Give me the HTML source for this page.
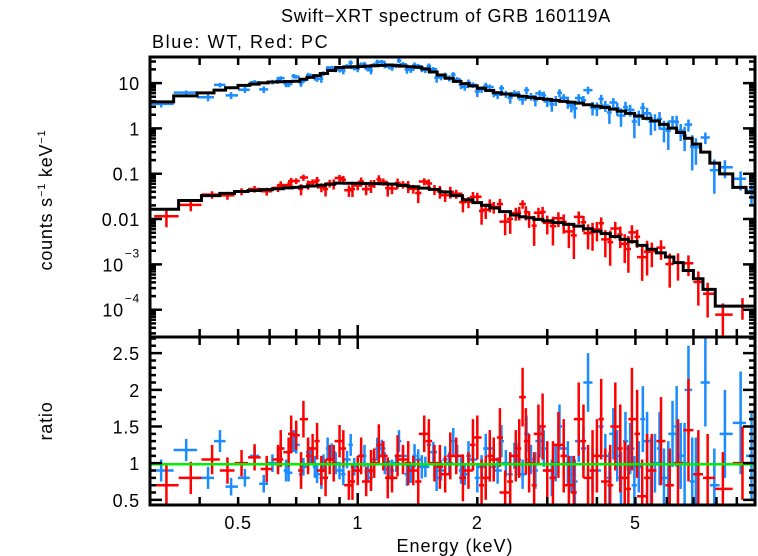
<!DOCTYPE html>
<html><head><meta charset="utf-8"><style>
body{margin:0;background:#fff;}
svg{display:block;font-family:"Liberation Sans",sans-serif;}
</style></head><body>
<svg id="chart" width="758" height="556" viewBox="0 0 758 556">
<text x="446" y="22" text-anchor="middle" font-size="18" letter-spacing="0.8">Swift−XRT spectrum of GRB 160119A</text>
<text x="152" y="48" font-size="18" letter-spacing="1.6">Blue: WT, Red: PC</text>
<text transform="translate(52,200) rotate(-90)" text-anchor="middle" font-size="18" letter-spacing="0.8">counts s<tspan font-size="11" dy="-7">−1</tspan><tspan dy="7"> keV</tspan><tspan font-size="11" dy="-7">−1</tspan></text>
<text transform="translate(52,421) rotate(-90)" text-anchor="middle" font-size="18" letter-spacing="0.8">ratio</text>
<text x="455" y="552" text-anchor="middle" font-size="18" letter-spacing="1">Energy (keV)</text>
<g id="g"></g>
</svg>
<script>
const blueE=[0.32,0.37,0.42,0.45,0.48,0.52,0.55,0.58,0.61,0.64,0.67,0.70,0.73,0.76,0.79,0.82,0.86,0.9,0.94,0.98,1.02,1.06,1.1,1.15,1.2,1.25,1.3,1.36,1.42,1.48,1.55,1.62,1.7,1.78,1.86,1.95,2.05,2.15,2.25,2.36,2.48,2.6,2.73,2.87,3.0,3.15,3.3,3.45,3.6,3.8,4.0,4.2,4.4,4.6,4.85,5.1,5.35,5.6,5.9,6.2,6.5,6.8,7.1,7.5,7.9,8.4,9.2,9.8];
const blueRatio=[0.9,1.18,0.8,1.3,0.68,0.8,1.1,0.72,1.0,1.2,0.87,1.25,0.95,1.1,0.85,1.0,1.15,0.9,1.05,0.95,1.1,0.88,1.05,1.2,0.92,1.0,1.1,0.85,1.05,0.95,1.15,0.9,1.0,1.1,0.85,1.05,0.95,1.2,0.9,1.0,1.1,0.85,1.05,1.3,0.9,1.0,1.2,0.85,1.3,2.1,0.9,1.1,1.4,0.8,1.2,0.95,1.3,1.0,0.8,1.4,1.1,2.0,0.85,2.1,0.7,1.4,1.55,1.1];
const blueErr=[0.15,0.15,0.15,0.15,0.12,0.12,0.12,0.12,0.12,0.12,0.12,0.12,0.12,0.12,0.12,0.12,0.12,0.12,0.12,0.12,0.12,0.12,0.12,0.12,0.12,0.12,0.12,0.12,0.14,0.14,0.14,0.14,0.15,0.15,0.15,0.15,0.16,0.16,0.18,0.18,0.18,0.2,0.2,0.22,0.22,0.25,0.25,0.25,0.28,0.4,0.3,0.3,0.35,0.35,0.35,0.35,0.4,0.4,0.4,0.45,0.45,0.6,0.5,0.6,0.5,0.6,0.7,0.6];
const blueE2=[0.63,0.66,0.69,0.72,0.75,0.78,0.81,0.84,0.88,0.92,0.96,1.0,1.04,1.08,1.12,1.17,1.22,1.27,1.33,1.39,1.45,1.51,1.58,1.66,1.74,1.82,1.9,2.0,2.1,2.2,2.3,2.42,2.54,2.66,2.8,2.94,3.08,3.22,3.38,3.52,3.7,3.9,4.1,4.3,4.5,4.72,4.97,5.22,5.47,5.75,6.05,6.35,6.65,6.95];
const blueRatio2=[1.05,0.9,1.3,0.85,1.15,0.95,0.8,1.2,1.0,0.85,1.25,0.9,1.1,0.8,1.2,1.0,0.9,1.3,0.85,1.1,0.95,1.25,0.8,1.05,1.3,0.9,1.1,0.8,1.2,0.95,1.3,0.85,1.05,1.4,0.9,1.2,0.8,1.5,1.0,0.75,1.2,0.9,1.5,0.8,1.1,1.3,0.7,1.6,0.9,1.2,0.8,1.5,1.0,0.75];
const blueErr2=[0.15,0.15,0.15,0.15,0.15,0.15,0.15,0.15,0.15,0.15,0.15,0.15,0.15,0.15,0.15,0.15,0.15,0.15,0.16,0.16,0.16,0.16,0.18,0.18,0.18,0.18,0.2,0.2,0.2,0.2,0.22,0.22,0.22,0.25,0.25,0.25,0.25,0.3,0.3,0.3,0.3,0.3,0.35,0.35,0.35,0.4,0.4,0.45,0.45,0.5,0.5,0.55,0.55,0.6];
const redE=[0.33,0.38,0.43,0.47,0.51,0.55,0.59,0.63,0.67,0.7,0.73,0.77,0.81,0.85,0.9,0.95,1.0,1.05,1.1,1.16,1.22,1.3,1.38,1.47,1.56,1.66,1.77,1.9,2.0,2.1,2.2,2.35,2.5,2.6,2.7,2.85,3.0,3.2,3.4,3.6,3.8,4.0,4.2,4.45,4.7,4.9,5.2,5.5,5.8,6.1,6.4,6.8,7.2,7.6,8.3,9.3];
const redRatio=[0.7,0.8,1.05,0.9,1.0,1.08,0.92,1.05,1.15,1.38,1.6,1.2,0.9,1.05,1.3,0.7,0.9,0.75,1.0,1.1,0.8,1.05,0.9,1.4,1.0,0.85,1.1,0.9,1.35,0.8,1.05,0.6,1.1,1.9,1.0,1.4,0.9,1.25,0.7,1.6,0.8,1.1,0.75,1.5,0.8,1.6,0.55,0.9,1.3,0.7,1.0,1.45,0.85,0.8,0.65,1.0];
const redErr=[0.3,0.22,0.2,0.18,0.18,0.18,0.18,0.2,0.2,0.2,0.25,0.2,0.2,0.2,0.22,0.2,0.2,0.2,0.2,0.2,0.2,0.2,0.2,0.25,0.25,0.25,0.25,0.25,0.3,0.3,0.3,0.3,0.35,0.4,0.4,0.4,0.4,0.45,0.4,0.5,0.45,0.5,0.45,0.6,0.5,0.7,0.5,0.5,0.6,0.5,0.6,0.7,0.6,0.6,0.5,0.5];
const redE2=[0.64,0.68,0.72,0.75,0.79,0.83,0.87,0.92,0.97,1.02,1.08,1.13,1.19,1.26,1.34,1.42,1.51,1.61,1.71,1.84,1.95,2.05,2.15,2.28,2.42,2.55,2.65,2.78,2.92,3.1,3.3,3.5,3.7,3.9,4.1,4.32,4.58,4.8,5.05,5.35];
const redRatio2=[1.2,1.4,0.9,1.1,1.3,0.8,1.0,1.2,0.75,1.1,0.9,1.25,0.8,1.1,1.0,0.75,1.3,0.95,1.1,0.8,1.25,0.7,1.1,1.35,0.75,1.2,1.3,0.7,1.5,0.8,1.1,0.6,1.3,0.9,1.6,0.7,1.2,0.65,1.4,0.8];
const redErr2=[0.25,0.25,0.25,0.25,0.25,0.25,0.25,0.25,0.25,0.25,0.28,0.28,0.28,0.28,0.3,0.3,0.3,0.3,0.32,0.32,0.35,0.35,0.35,0.4,0.4,0.4,0.45,0.45,0.45,0.5,0.5,0.5,0.5,0.55,0.55,0.55,0.6,0.6,0.6,0.6];
const blueModelE=[0.3,0.35,0.4,0.45,0.5,0.6,0.7,0.8,0.9,1.2,1.45,1.8,2.27,2.85,3.6,4.3,5.0,5.7,6.4,7.0,7.5,8.0,8.5,9.0,10];
const blueModelV=[3.2,5,5.5,7,8.5,10.5,11,15,22,25,22,10.5,6,4.6,3.6,2.8,2.0,1.4,0.9,0.5,0.3,0.15,0.09,0.055,0.035];
const redModelE=[0.3,0.35,0.4,0.5,0.6,0.8,0.9,1.2,1.6,2.0,2.55,3.6,4.5,5.0,6.0,6.5,7.0,7.5,8.0,10];
const redModelV=[0.012,0.02,0.03,0.04,0.045,0.055,0.062,0.06,0.044,0.023,0.0116,0.007,0.004,0.003,0.0016,0.001,6e-4,3.5e-4,1.2e-4,1.2e-4];
const xTickLabels=["0.5","1","2","5"];
const xTickVals=[0.5,1,2,5];
const yTopLabels=["10","1","0.1","0.01"];
const yTopVals=[10,1,0.1,0.01];
const yRatioLabels=["0.5","1","1.5","2","2.5"];
const yRatioVals=[0.5,1,1.5,2,2.5];

const L=150,R=755,T=57,M=337,B=505;
const xMin=Math.log10(0.3),xMax=Math.log10(10);
const X=e=>L+(Math.log10(e)-xMin)/(xMax-xMin)*(R-L);
const yTMax=Math.log10(37.6),yTMin=Math.log10(2.5e-5);
const YT=v=>T+(yTMax-Math.log10(v))/(yTMax-yTMin)*(M-T);
const rMin=0.43,rMax=2.72;
const YR=r=>M+(rMax-r)/(rMax-rMin)*(B-M);
const g=document.getElementById('g');
const NS='http://www.w3.org/2000/svg';
function mk(t,a){const e=document.createElementNS(NS,t);for(const k in a)e.setAttribute(k,a[k]);g.appendChild(e);return e;}
function interp(Es,Vs,e){if(e<=Es[0])return Vs[0];for(let i=0;i<Es.length-1;i++){if(e<=Es[i+1]){const f=(Math.log(e)-Math.log(Es[i]))/(Math.log(Es[i+1])-Math.log(Es[i]));return Math.exp(Math.log(Vs[i])*(1-f)+Math.log(Vs[i+1])*f);}}return Vs[Vs.length-1];}
function clipY(y,a,b){return Math.max(a,Math.min(b,y));}
function binEdges(Es,i,n){
  const e=Es[i];
  const lo=i>0?Math.sqrt(Es[i-1]*e):e*e/Math.sqrt(Es[i+1]*e);
  const hi=i<n-1?Math.sqrt(Es[i+1]*e):Math.min(10,e*e/Math.sqrt(Es[i-1]*e));
  return [Math.max(lo,0.3),Math.min(hi,10)];
}
function drawSeries(Es,Rs,Er,mE,mV,color,name,wf){
  const n=Math.min(Es.length,Rs.length,Er.length);
  for(let i=0;i<n;i++){
    const e=Es[i];
    const [lo,hi]=binEdges(Es,i,n);
    const m=interp(mE,mV,e);
    const c=m*Rs[i],ce=m*Er[i];
    const x=X(e),x1=x-(x-X(lo))*wf,x2=x+(X(hi)-x)*wf;
    const yc=YT(c),ya=clipY(YT(c+ce),T,M),yb=clipY(YT(Math.max(c-ce,c*0.3)),T,M);
    const p=mk('path',{d:`M${x1},${yc}H${x2}M${x},${ya}V${yb}`,stroke:color,'stroke-width':2.5,fill:'none'});
    
    
    const yr=YR(Rs[i]),yra=clipY(YR(Rs[i]+Er[i]),M,B),yrb=clipY(YR(Rs[i]-Er[i]),M,B);
    const q=mk('path',{d:`M${x1},${clipY(yr,M,B)}H${x2}M${x},${yra}V${yrb}`,stroke:color,'stroke-width':2.5,fill:'none'});
    
    
  }
}
function drawModel(Es,mE,mV,name){
  let d='';const n=Es.length;
  for(let i=0;i<n;i++){
    let [lo,hi]=binEdges(Es,i,n);
    if(i===0)lo=0.3; if(i===n-1)hi=10;
    const y=YT(interp(mE,mV,Es[i]));
    d+=(i===0?`M${X(lo)},${y}`:`V${y}`)+`H${X(hi)}`;
  }
  const p=mk('path',{d:d,stroke:'#000','stroke-width':3,fill:'none'});
  
  
}
drawSeries(blueE,blueRatio,blueErr,blueModelE,blueModelV,'#1a8cff','wt',1);
drawSeries(blueE2,blueRatio2,blueErr2,blueModelE,blueModelV,'#1a8cff','wt',0.6);
drawSeries(redE,redRatio,redErr,redModelE,redModelV,'#ff0000','pc',1);
drawSeries(redE2,redRatio2,redErr2,redModelE,redModelV,'#ff0000','pc',0.6);
drawModel(blueE,blueModelE,blueModelV,'wt-model-line');
drawModel(redE,redModelE,redModelV,'pc-model-line');
const gl=mk('line',{x1:L,x2:R,y1:YR(0.985),y2:YR(0.985),stroke:'#00ee00','stroke-width':2.5});



for(const [a,b,nm] of [[T,M,'top-panel-frame'],[M,B,'ratio-panel-frame']]){
  const r=mk('rect',{x:L,y:a,width:R-L,height:b-a,fill:'none',stroke:'#000','stroke-width':3});
  
  
}
let td='';
for(let dec=0.1;dec<=10;dec*=10){for(let k=1;k<10;k++){const e=k*dec;if(e<0.3-1e-9||e>10+1e-9)continue;const x=X(e);const len=(Math.abs(e-1)<1e-9)?12:8;
  for(const y of [T,M]) td+=`M${x},${y}v${len}`;
  for(const y of [M,B]) td+=`M${x},${y}v${-len}`;}}
for(let p=-5;p<=1;p++){for(let k=1;k<10;k++){const v=k*Math.pow(10,p);if(v<2.5e-5||v>37.6)continue;const y=YT(v);const len=k===1?12:6;td+=`M${L},${y}h${len}M${R},${y}h${-len}`;}}
for(let r=0.5;r<=2.71;r+=0.1){const y=YR(r);const maj=Math.abs(r*2-Math.round(r*2))<1e-6;const len=maj?12:6;td+=`M${L},${y}h${len}M${R},${y}h${-len}`;}
const tk=mk('path',{d:td,stroke:'#000','stroke-width':2.5,fill:'none'});


function txt(x,y,s,anchor,name,sup){const t=mk('text',{x:x,y:y,'text-anchor':anchor,'font-size':18,'letter-spacing':0.8});t.textContent=s;if(sup){const ts=document.createElementNS(NS,'tspan');ts.setAttribute('font-size','12');ts.setAttribute('dy','-7');ts.textContent=sup;t.appendChild(ts);}
  
  }
xTickVals.forEach((v,i)=>txt(X(v),529,xTickLabels[i],'middle','x-tick-label'));
yTopVals.forEach((v,i)=>txt(L-10,YT(v)+7,yTopLabels[i],'end','y-tick-label'));
txt(L-26,YT(1e-3)+7,'10','end','y-tick-label');
txt(L-10,YT(1e-3),'','end','y-tick-label','−3');
txt(L-26,YT(1e-4)+7,'10','end','y-tick-label');
txt(L-10,YT(1e-4),'','end','y-tick-label','−4');
yRatioVals.forEach((v,i)=>txt(L-10,YR(v)+7,yRatioLabels[i],'end','ratio-tick-label'));
</script>
</body></html>
